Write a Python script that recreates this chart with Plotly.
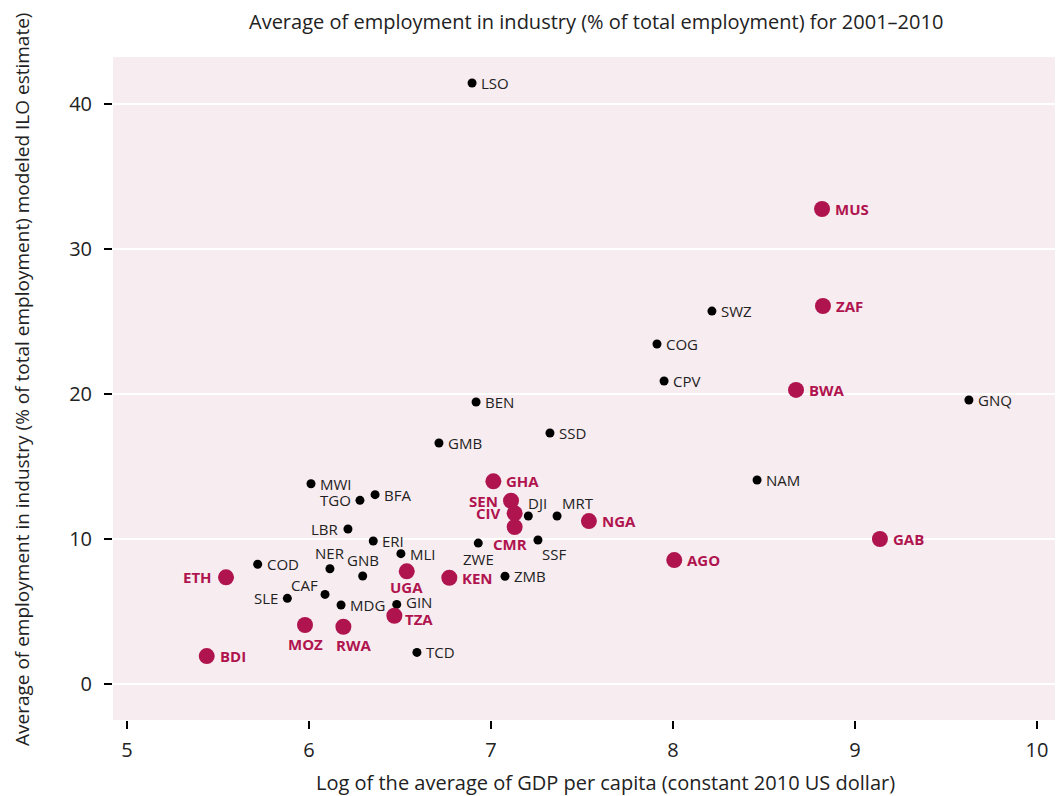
import plotly.graph_objects as go

# ---- data ----
black_codes = ["LSO", "SWZ", "COG", "CPV", "GNQ", "BEN", "SSD", "GMB", "NAM", "MWI",
               "BFA", "TGO", "LBR", "ERI", "MLI", "COD", "NER", "GNB", "CAF", "SLE",
               "MDG", "GIN", "TCD", "ZWE", "SSF", "DJI", "MRT", "ZMB"]
black_gdp = [6.896, 8.214, 7.912, 7.951, 9.626, 6.918, 7.324, 6.714, 8.462, 6.011,
             6.363, 6.280, 6.214, 6.353, 6.505, 5.718, 6.115, 6.295, 6.088, 5.881,
             6.176, 6.482, 6.593, 6.930, 7.258, 7.205, 7.363, 7.077]
black_ind = [41.45, 25.72, 23.45, 20.90, 19.59, 19.45, 17.31, 16.62, 14.07, 13.81,
             13.06, 12.67, 10.69, 9.86, 8.99, 8.26, 7.95, 7.45, 6.18, 5.91,
             5.45, 5.49, 2.18, 9.72, 9.93, 11.59, 11.59, 7.43]

red_codes = ["MUS", "ZAF", "BWA", "GAB", "AGO", "NGA", "GHA", "SEN", "CIV", "CMR",
             "KEN", "UGA", "TZA", "ETH", "MOZ", "RWA", "BDI"]
red_gdp = [8.819, 8.824, 8.676, 9.137, 8.007, 7.538, 7.013, 7.110, 7.130, 7.130,
           6.771, 6.537, 6.469, 5.544, 5.978, 6.189, 5.438]
red_ind = [32.76, 26.07, 20.28, 10.00, 8.55, 11.24, 13.98, 12.64, 11.77, 10.83,
           7.33, 7.77, 4.71, 7.36, 4.07, 3.95, 1.93]

x_ticks = [5, 6, 7, 8, 9, 10]
y_ticks = [0, 10, 20, 30, 40]

title_text = "Average of employment in industry (% of total employment) for 2001\u20132010"
x_title = "Log of the average of GDP per capita (constant 2010 US dollar)"
y_title = "Average of employment in industry (% of total employment) modeled ILO estimate)"

# ---- label placement (style only) ----
# (xanchor, yanchor, xshift, yshift)
RIGHT_B = ("left", "middle", 7, 0)
RIGHT_R = ("left", "middle", 11, 0)
black_place = {
    "TGO": ("right", "middle", -7, 0),
    "LBR": ("right", "middle", -7, 0),
    "SLE": ("right", "middle", -7, 0),
    "NER": ("center", "middle", 0, 16),
    "GNB": ("center", "middle", 0, 16),
    "CAF": ("right", "middle", -5, 9),
    "ZWE": ("center", "middle", 0, -16),
    "SSF": ("left", "middle", 2, -14),
    "DJI": ("left", "middle", -2, 13),
    "MRT": ("left", "middle", 3, 13),
    "GIN": ("left", "middle", 7, 2),
}
red_place = {
    "SEN": ("right", "middle", -11, 0),
    "CIV": ("right", "middle", -12, 0),
    "ETH": ("right", "middle", -12, 0),
    "CMR": ("center", "middle", -5, -17),
    "UGA": ("center", "middle", 0, -16),
    "MOZ": ("center", "middle", 0, -19),
    "RWA": ("center", "middle", 10, -18),
    "TZA": ("left", "middle", 9, -3),
}

RED = "#B0144F"
BG = "#F7ECF0"
TXT = "#222222"
FONT = "Open Sans"

# page body has an 8px default margin; plot area should sit at x 113..1063, y 57..720
PW, PH = 950, 663

fig = go.Figure()
fig.add_trace(go.Scatter(x=black_gdp, y=black_ind, mode="markers",
                         marker=dict(size=9, color="#000000"), showlegend=False,
                         hoverinfo="text", text=black_codes))
fig.add_trace(go.Scatter(x=red_gdp, y=red_ind, mode="markers",
                         marker=dict(size=16, color=RED), showlegend=False,
                         hoverinfo="text", text=red_codes))

annotations = []
for c, x, y in zip(black_codes, black_gdp, black_ind):
    xa, ya, dx, dy = black_place.get(c, RIGHT_B)
    annotations.append(dict(x=x, y=y, xref="x", yref="y", text=c, showarrow=False,
                            xanchor=xa, yanchor=ya, xshift=dx, yshift=dy,
                            font=dict(family=FONT, size=15, color=TXT)))
for c, x, y in zip(red_codes, red_gdp, red_ind):
    xa, ya, dx, dy = red_place.get(c, RIGHT_R)
    annotations.append(dict(x=x, y=y, xref="x", yref="y", text="<b>" + c + "</b>",
                            showarrow=False,
                            xanchor=xa, yanchor=ya, xshift=dx, yshift=dy,
                            font=dict(family=FONT, size=15, color=RED)))

# titles as annotations (positions relative to the plot area)
annotations.append(dict(text=title_text, x=(596 - 113) / PW, y=(720 - 22) / PH,
                        xref="paper", yref="paper",
                        xanchor="center", yanchor="middle", showarrow=False,
                        font=dict(family=FONT, size=20, color=TXT)))
annotations.append(dict(text=x_title, x=(605 - 113) / PW, xref="paper", y=0, yref="paper",
                        xanchor="center", yanchor="middle", yshift=-62, showarrow=False,
                        font=dict(family=FONT, size=20, color=TXT)))
annotations.append(dict(text=y_title, x=0, xref="paper", y=(720 - 380) / PH, yref="paper",
                        xanchor="center", yanchor="middle", xshift=-91, textangle=-90,
                        showarrow=False, font=dict(family=FONT, size=19, color=TXT)))

fig.update_layout(
    width=1055, height=788,
    margin=dict(l=105, r=0, t=49, b=76, autoexpand=False),
    paper_bgcolor="white", plot_bgcolor=BG,
    font=dict(family=FONT, color=TXT),
    annotations=annotations,
    xaxis=dict(range=[4.923, 10.143], tickvals=x_ticks, automargin=False,
               showgrid=False, zeroline=False, showline=False,
               ticks="outside", ticklen=8, tickwidth=2, tickcolor="#000000",
               ticklabelstandoff=4,
               tickfont=dict(family=FONT, size=20, color=TXT)),
    yaxis=dict(range=[-2.48, 43.24], tickvals=y_ticks, automargin=False,
               showgrid=True, gridcolor="white", gridwidth=2,
               zeroline=False, showline=False,
               ticks="outside", ticklen=8, tickwidth=2, tickcolor="#000000",
               ticklabelstandoff=8,
               tickfont=dict(family=FONT, size=20, color=TXT)),
)

fig.write_html("out.html")
